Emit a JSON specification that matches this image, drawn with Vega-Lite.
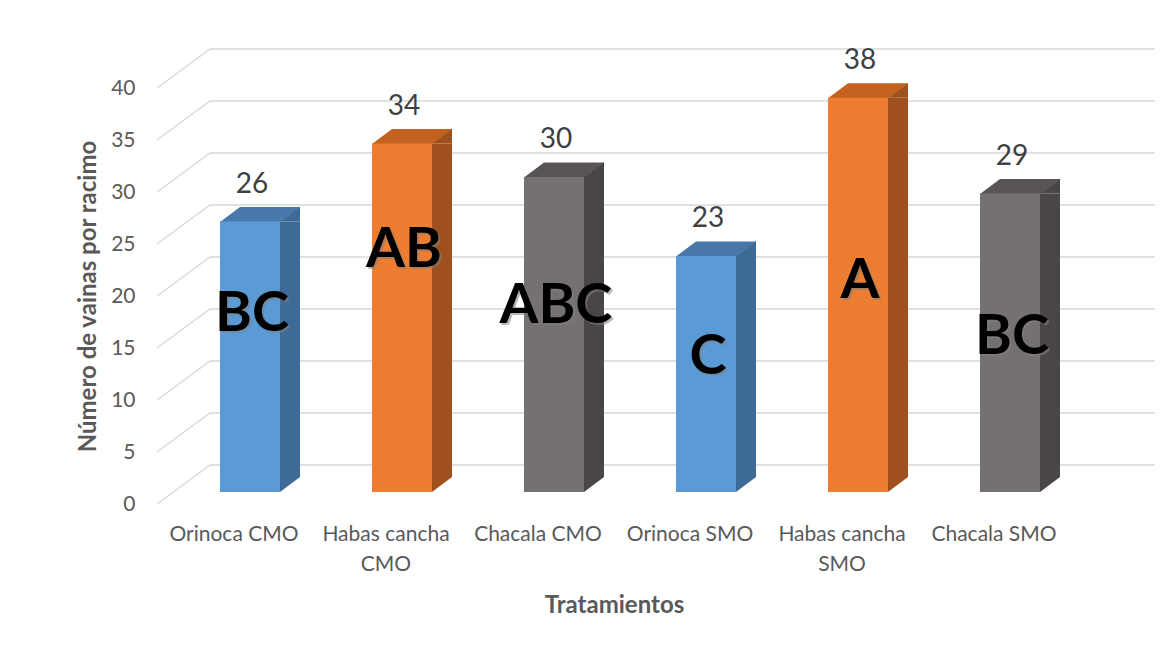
{
  "$schema": "https://vega.github.io/schema/vega-lite/v6.json",
  "width": 912,
  "height": 416,
  "autosize": {"type": "none"},
  "padding": {"left": 158, "top": 88, "right": 100, "bottom": 148},
  "background": "white",
  "config": {
    "view": {"stroke": null},
    "font": "Lato",
    "axisY": {
      "grid": false, "domain": false, "ticks": false, "tickCount": 8,
      "labelPadding": 23, "labelFontSize": 21, "labelColor": "#595959", "labelFont": "Lato",
      "titleFont": "Lato", "titleFontSize": 24, "titleFontWeight": "bold", "titleColor": "#595959",
      "titleX": -70, "titleY": 208, "titleAngle": 270, "titleAlign": "center", "titleBaseline": "middle"
    }
  },
  "datasets": {
    "barras": [
      {"tratamiento": "Orinoca CMO", "variedad": "Orinoca", "vainas": 26.0, "letra": "BC", "letra_y": 17.1},
      {"tratamiento": "Habas cancha CMO", "variedad": "Habas cancha", "vainas": 33.5, "letra": "AB", "letra_y": 23.3},
      {"tratamiento": "Chacala CMO", "variedad": "Chacala", "vainas": 30.3, "letra": "ABC", "letra_y": 17.9},
      {"tratamiento": "Orinoca SMO", "variedad": "Orinoca", "vainas": 22.7, "letra": "C", "letra_y": 13.0},
      {"tratamiento": "Habas cancha SMO", "variedad": "Habas cancha", "vainas": 37.9, "letra": "A", "letra_y": 20.3},
      {"tratamiento": "Chacala SMO", "variedad": "Chacala", "vainas": 28.7, "letra": "BC", "letra_y": 14.9}
    ],
    "marcas": [{"t": 0}, {"t": 5}, {"t": 10}, {"t": 15}, {"t": 20}, {"t": 25}, {"t": 30}, {"t": 35}, {"t": 40}]
  },
  "encoding": {
    "x": {
      "field": "tratamiento", "type": "nominal", "sort": null,
      "scale": {"type": "band", "paddingInner": 0, "paddingOuter": 0},
      "axis": {
        "domain": false, "ticks": false, "labelAngle": 0,
        "labelPadding": 19, "labelFontSize": 21, "labelColor": "#595959", "labelFont": "Lato",
        "labelLineHeight": 30, "labelBaseline": "top",
        "labelExpr": "indexof(datum.label, 'Habas cancha') == 0 ? ['Habas cancha', replace(datum.label, 'Habas cancha ', '')] : datum.label",
        "title": "Tratamientos",
        "titleFont": "Lato", "titleFontSize": 24, "titleFontWeight": "bold", "titleColor": "#595959",
        "titleY": 101, "titleBaseline": "middle"
      }
    }
  },
  "layer": [
    {
      "data": {"name": "marcas"},
      "mark": {"type": "rule", "color": "#D9D9D9", "strokeWidth": 1.5, "yOffset": -39},
      "encoding": {
        "y": {"field": "t", "type": "quantitative", "scale": {"domain": [0, 40]}, "title": "Número de vainas por racimo"},
        "x": {"value": 52},
        "x2": {"value": 997}
      }
    },
    {
      "data": {"name": "marcas"},
      "mark": {"type": "rule", "color": "#D9D9D9", "strokeWidth": 1.5, "y2Offset": -39},
      "encoding": {
        "y": {"field": "t", "type": "quantitative", "scale": {"domain": [0, 40]}, "title": "Número de vainas por racimo"},
        "y2": {"field": "t"},
        "x": {"value": -1},
        "x2": {"value": 52}
      }
    },
    {
      "data": {"name": "barras"},
      "mark": {"type": "bar", "width": 21, "xOffset": 55.5, "yOffset": -12, "y2Offset": -27},
      "encoding": {
        "y": {"field": "vainas", "type": "quantitative", "scale": {"domain": [0, 40]}, "title": "Número de vainas por racimo"},
        "y2": {"datum": 0},
        "color": {"field": "variedad", "type": "nominal", "legend": null, "scale": {"domain": ["Orinoca", "Habas cancha", "Chacala"], "range": ["#3D6A96", "#9F501C", "#4A4646"]}}
      }
    },
    {
      "data": {"name": "barras"},
      "mark": {"type": "point", "shape": "M -1 0.75 L 1 -0.75 L 1 0.75 Z", "size": 400, "filled": true, "opacity": 1, "strokeWidth": 0, "xOffset": 56, "yOffset": -19.5},
      "encoding": {
        "y": {"field": "vainas", "type": "quantitative", "scale": {"domain": [0, 40]}, "title": "Número de vainas por racimo"},
        "color": {"field": "variedad", "type": "nominal", "legend": null, "scale": {"domain": ["Orinoca", "Habas cancha", "Chacala"], "range": ["#3D6A96", "#9F501C", "#4A4646"]}}
      }
    },
    {
      "data": {"name": "barras"},
      "mark": {"type": "point", "shape": "M -1 -0.75 L 1 -0.75 L -1 0.75 Z", "size": 400, "filled": true, "opacity": 1, "strokeWidth": 0, "xOffset": 56, "yOffset": -19.5},
      "encoding": {
        "y": {"datum": 0, "type": "quantitative", "scale": {"domain": [0, 40]}, "title": "Número de vainas por racimo"},
        "color": {"field": "variedad", "type": "nominal", "legend": null, "scale": {"domain": ["Orinoca", "Habas cancha", "Chacala"], "range": ["#3D6A96", "#9F501C", "#4A4646"]}}
      }
    },
    {
      "data": {"name": "barras"},
      "mark": {"type": "point", "shape": "M -1 0.1875 L 0.5 0.1875 L 1 -0.1875 L -0.5 -0.1875 Z", "size": 6400, "filled": true, "opacity": 1, "strokeWidth": 0, "xOffset": 26, "yOffset": -19},
      "encoding": {
        "y": {"field": "vainas", "type": "quantitative", "scale": {"domain": [0, 40]}, "title": "Número de vainas por racimo"},
        "color": {"field": "variedad", "type": "nominal", "legend": null, "scale": {"domain": ["Orinoca", "Habas cancha", "Chacala"], "range": ["#4878AA", "#C3621F", "#585454"]}}
      }
    },
    {
      "data": {"name": "barras"},
      "mark": {"type": "bar", "width": 60, "xOffset": 16, "yOffset": -12, "y2Offset": -12},
      "encoding": {
        "y": {"field": "vainas", "type": "quantitative", "scale": {"domain": [0, 40]}, "title": "Número de vainas por racimo"},
        "y2": {"datum": 0},
        "color": {"field": "variedad", "type": "nominal", "legend": null, "scale": {"domain": ["Orinoca", "Habas cancha", "Chacala"], "range": ["#5B9BD5", "#ED7D31", "#767171"]}}
      }
    },
    {
      "data": {"name": "barras"},
      "mark": {"type": "text", "font": "Lato", "fontSize": 28, "color": "#404040", "baseline": "alphabetic", "align": "center", "xOffset": 18, "yOffset": -41},
      "encoding": {
        "y": {"field": "vainas", "type": "quantitative", "scale": {"domain": [0, 40]}, "title": "Número de vainas por racimo"},
        "text": {"field": "vainas", "type": "quantitative", "format": ".0f"}
      }
    },
    {
      "data": {"name": "barras"},
      "mark": {"type": "text", "font": "Lato", "fontSize": 56, "fontWeight": "bold", "color": "#808080", "opacity": 0.55, "baseline": "middle", "align": "center", "xOffset": 20, "yOffset": -10},
      "encoding": {
        "y": {"field": "letra_y", "type": "quantitative", "scale": {"domain": [0, 40]}, "title": "Número de vainas por racimo"},
        "text": {"field": "letra", "type": "nominal"}
      }
    },
    {
      "data": {"name": "barras"},
      "mark": {"type": "text", "font": "Lato", "fontSize": 56, "fontWeight": "bold", "color": "#000000", "baseline": "middle", "align": "center", "xOffset": 18, "yOffset": -12},
      "encoding": {
        "y": {"field": "letra_y", "type": "quantitative", "scale": {"domain": [0, 40]}, "title": "Número de vainas por racimo"},
        "text": {"field": "letra", "type": "nominal"}
      }
    }
  ],
  "resolve": {"scale": {"color": "independent"}}
}
